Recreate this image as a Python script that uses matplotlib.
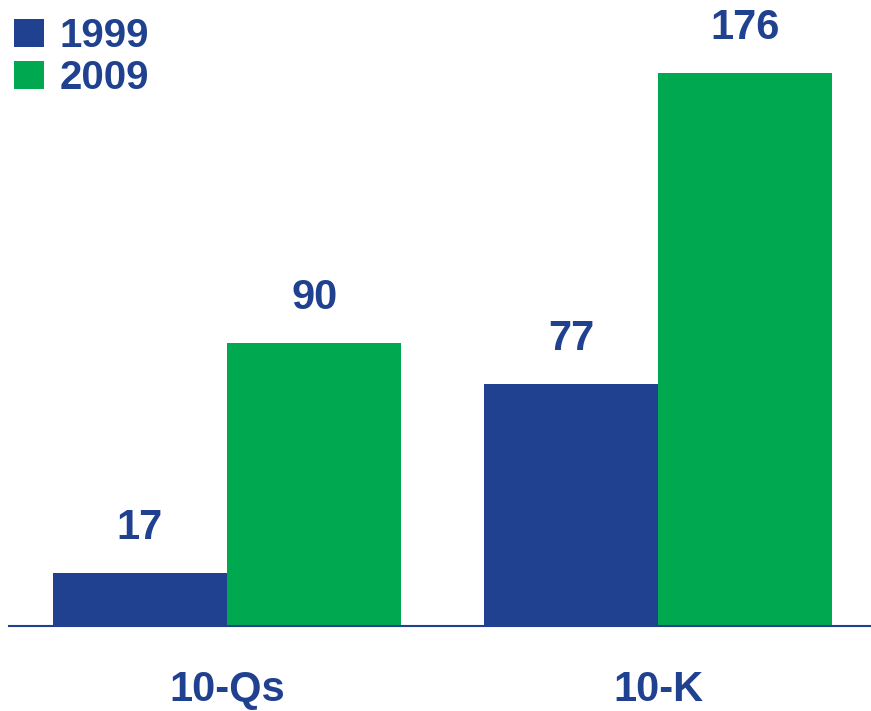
import matplotlib
matplotlib.use("Agg")
import matplotlib.pyplot as plt
import numpy as np

plt.rcParams['font.family'] = ['Liberation Sans', 'DejaVu Sans']

categories = ['10-Qs', '10-K']
series_names = ['1999', '2009']
values_1999 = [17, 77]
values_2009 = [90, 176]

BLUE = '#1F4190'
GREEN = '#00A94F'
TEXT = '#1F4190'

fig = plt.figure(figsize=(8.71, 7.11), dpi=100)
ax = fig.add_axes([0.0103, 0.1195, 0.9897, 0.8805])

x = np.arange(len(categories))
w = 0.404
b1 = ax.bar(x - w / 2, values_1999, w, color=BLUE, label=series_names[0])
b2 = ax.bar(x + w / 2, values_2009, w, color=GREEN, label=series_names[1])

# value labels above bars
for bars in (b1, b2):
    for rect in bars:
        ax.annotate(f"{rect.get_height():.0f}",
                    (rect.get_x() + rect.get_width() / 2, rect.get_height()),
                    xytext=(0, 18), textcoords='offset points',
                    ha='center', va='bottom', fontsize=30, color=TEXT,
                    fontweight='bold')

ax.set_xlim(-0.506, 1.494)
ax.set_ylim(0, 199.2)
ax.set_xticks(x)
ax.set_xticklabels(categories, fontsize=30, color=TEXT, fontweight='bold')
ax.tick_params(axis='x', length=0, pad=32)
ax.set_yticks([])
for s in ['top', 'right', 'left']:
    ax.spines[s].set_visible(False)
ax.spines['bottom'].set_color(BLUE)
ax.spines['bottom'].set_linewidth(1.5)

leg = fig.legend(handles=[b1, b2], loc='upper left', bbox_to_anchor=(0.004, 0.99),
                 frameon=False, prop={'size': 29, 'weight': 'bold'},
                 handlelength=0.75, handleheight=0.72,
                 handletextpad=0.4, labelspacing=0.1, borderaxespad=0.1,
                 borderpad=0.15)
for t in leg.get_texts():
    t.set_color(TEXT)

fig.savefig('out.png', dpi=100)
